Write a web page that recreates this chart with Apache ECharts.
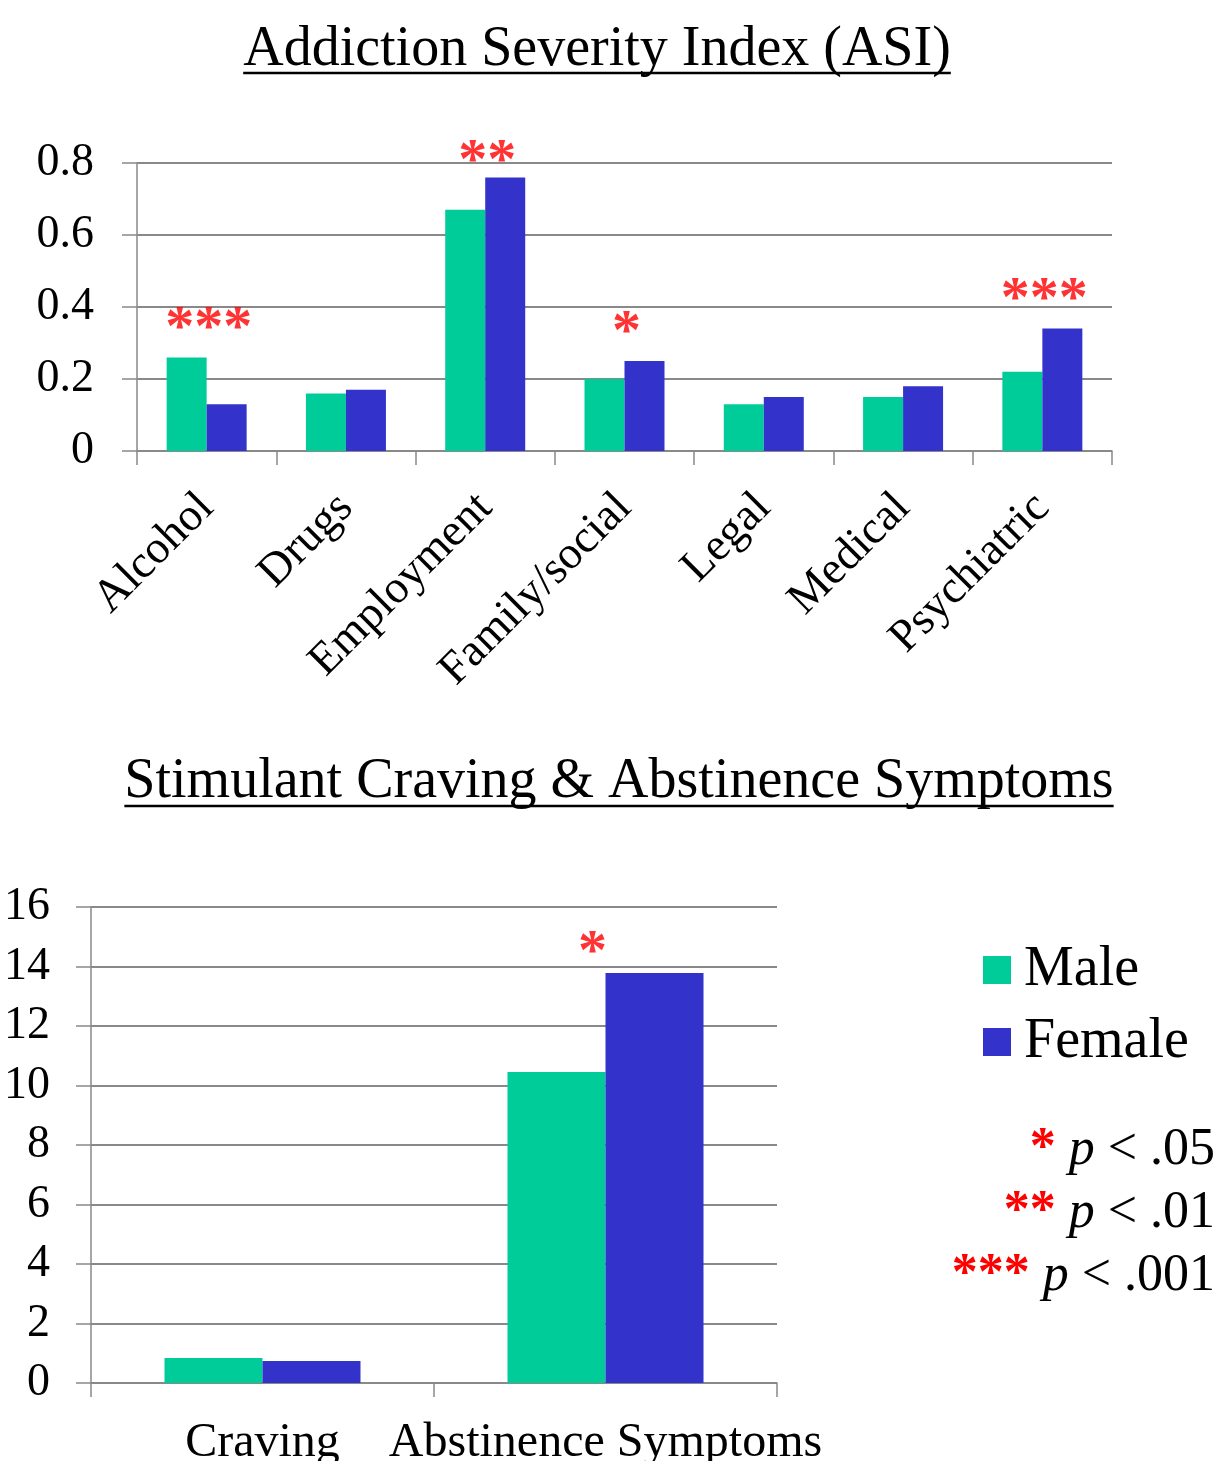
<!DOCTYPE html>
<html>
<head>
<meta charset="utf-8">
<script src="https://cdn.jsdelivr.net/npm/echarts@6/dist/echarts.min.js"></script>
<style>
  html, body { margin: 0; padding: 0; background: #fff; }
  #chart { width: 1219px; height: 1461px; }
</style>
</head>
<body>
<div id="chart"></div>
<script>
// data
const asiCategories = ['Alcohol', 'Drugs', 'Employment', 'Family/social', 'Legal', 'Medical', 'Psychiatric'];
const asiMale = [0.26, 0.16, 0.67, 0.20, 0.13, 0.15, 0.22];
const asiFemale = [0.13, 0.17, 0.76, 0.25, 0.15, 0.18, 0.34];
const asiStars = ['***', '', '**', '*', '', '', '***'];
const asiTicks = [0, 0.2, 0.4, 0.6, 0.8];

const scCategories = ['Craving', 'Abstinence Symptoms'];
const scMale = [0.84, 10.45];
const scFemale = [0.74, 13.78];
const scStars = ['', '*'];
const scTicks = [0, 2, 4, 6, 8, 10, 12, 14, 16];

const seriesNames = ['Male', 'Female'];
const pNotes = [['*', '.05'], ['**', '.01'], ['***', '.001']];

const FONT = '"Liberation Serif", "Times New Roman", serif';
const GRID_GRAY = '#898989';
const MALE = '#00cc99';
const FEMALE = '#3333cc';
const STAR_RED = '#ff0000';

function textWidth(str, size) {
  const ctx = document.createElement('canvas').getContext('2d');
  ctx.font = size + 'px ' + FONT;
  return ctx.measureText(str).width;
}

// stars sit a little above the taller bar of each group
function starPoints(stars, male, female, offset, cap) {
  const pts = [];
  stars.forEach((s, i) => {
    if (!s) return;
    pts.push({ value: [i, Math.min(Math.max(male[i], female[i]) + offset, cap)], stars: s });
  });
  return pts;
}

function valueAxis(gridIndex, ticks, margin) {
  return {
    type: 'value',
    gridIndex: gridIndex,
    min: ticks[0],
    max: ticks[ticks.length - 1],
    interval: ticks[1] - ticks[0],
    axisLine: { show: true, lineStyle: { color: GRID_GRAY, width: 1.5 } },
    axisTick: { show: true, length: 15, lineStyle: { color: GRID_GRAY, width: 1.5 } },
    axisLabel: { color: '#000', fontFamily: FONT, fontSize: 46, margin: margin },
    splitLine: { show: true, lineStyle: { color: GRID_GRAY, width: 2 } }
  };
}

function titleGraphics(text, cx, cy, underlineY) {
  const w = textWidth(text, 56);
  return [
    {
      type: 'text',
      x: cx, y: cy,
      style: { text: text, fill: '#000', fontSize: 56, fontFamily: FONT, align: 'center', verticalAlign: 'middle' }
    },
    {
      type: 'line',
      shape: { x1: cx - w / 2, y1: underlineY, x2: cx + w / 2, y2: underlineY },
      style: { stroke: '#000', lineWidth: 2.5 }
    }
  ];
}

const chart = echarts.init(document.getElementById('chart'));

const noteGraphics = pNotes.map((n, i) => ({
  type: 'text',
  x: 1215,
  y: 1150 + i * 63,
  style: {
    text: '{s|' + n[0] + '} {p|p} < ' + n[1],
    fill: '#000',
    fontSize: 52,
    fontFamily: FONT,
    align: 'right',
    verticalAlign: 'middle',
    rich: {
      s: { fill: STAR_RED, fontSize: 52, fontWeight: 'bold', fontFamily: FONT },
      p: { fontStyle: 'italic', fontSize: 52, fontFamily: FONT, fill: '#000' }
    }
  }
}));

function starLabel(dx) {
  return {
    show: true,
    position: 'inside',
    offset: [dx, 0],
    color: STAR_RED,
    fontFamily: FONT,
    fontWeight: 'bold',
    fontSize: 58,
    formatter: p => p.data.stars
  };
}

chart.setOption({
  animation: false,
  backgroundColor: '#fff',
  grid: [
    { left: 137, top: 163, width: 975, height: 288, outerBoundsMode: 'none' },
    { left: 91, top: 907, width: 686, height: 476, outerBoundsMode: 'none' }
  ],
  legend: {
    data: seriesNames,
    orient: 'vertical',
    left: 983,
    top: 942,
    padding: 0,
    itemWidth: 28,
    itemHeight: 28,
    itemGap: 16,
    icon: 'rect',
    textStyle: { color: '#000', fontFamily: FONT, fontSize: 56, padding: [0, 0, 0, 8] }
  },
  xAxis: [
    {
      type: 'category',
      gridIndex: 0,
      data: asiCategories,
      axisLine: { lineStyle: { color: GRID_GRAY, width: 1.5 } },
      axisTick: { show: true, length: 14, lineStyle: { color: GRID_GRAY, width: 1.5 } },
      axisLabel: { interval: 0, rotate: 45, color: '#000', fontFamily: FONT, fontSize: 46, margin: 50 }
    },
    {
      type: 'category',
      gridIndex: 1,
      data: scCategories,
      axisLine: { lineStyle: { color: GRID_GRAY, width: 1.5 } },
      axisTick: { show: true, length: 14, lineStyle: { color: GRID_GRAY, width: 1.5 } },
      axisLabel: { interval: 0, color: '#000', fontFamily: FONT, fontSize: 48, margin: 36 }
    }
  ],
  yAxis: [
    valueAxis(0, asiTicks, 43),
    valueAxis(1, scTicks, 41)
  ],
  series: [
    {
      name: seriesNames[0], type: 'bar', xAxisIndex: 0, yAxisIndex: 0,
      data: asiMale, barWidth: 40, barGap: '0%', itemStyle: { color: MALE }
    },
    {
      name: seriesNames[1], type: 'bar', xAxisIndex: 0, yAxisIndex: 0,
      data: asiFemale, barWidth: 40, barGap: '0%', itemStyle: { color: FEMALE }
    },
    {
      name: seriesNames[0], type: 'bar', xAxisIndex: 1, yAxisIndex: 1,
      data: scMale, barWidth: 98, barGap: '0%', itemStyle: { color: MALE }
    },
    {
      name: seriesNames[1], type: 'bar', xAxisIndex: 1, yAxisIndex: 1,
      data: scFemale, barWidth: 98, barGap: '0%', itemStyle: { color: FEMALE }
    },
    {
      type: 'scatter', xAxisIndex: 0, yAxisIndex: 0, clip: false,
      symbolSize: 1, itemStyle: { color: 'transparent' },
      data: starPoints(asiStars, asiMale, asiFemale, 0.076, asiTicks[asiTicks.length - 1]),
      label: starLabel(2), silent: true
    },
    {
      type: 'scatter', xAxisIndex: 1, yAxisIndex: 1, clip: false,
      symbolSize: 1, itemStyle: { color: 'transparent' },
      data: starPoints(scStars, scMale, scFemale, 0.64, scTicks[scTicks.length - 1]),
      label: starLabel(-13), silent: true
    }
  ],
  graphic: [].concat(
    titleGraphics('Addiction Severity Index (ASI)', 597, 50, 73),
    titleGraphics('Stimulant Craving & Abstinence Symptoms', 619, 782, 806),
    noteGraphics
  )
});
</script>
</body>
</html>
